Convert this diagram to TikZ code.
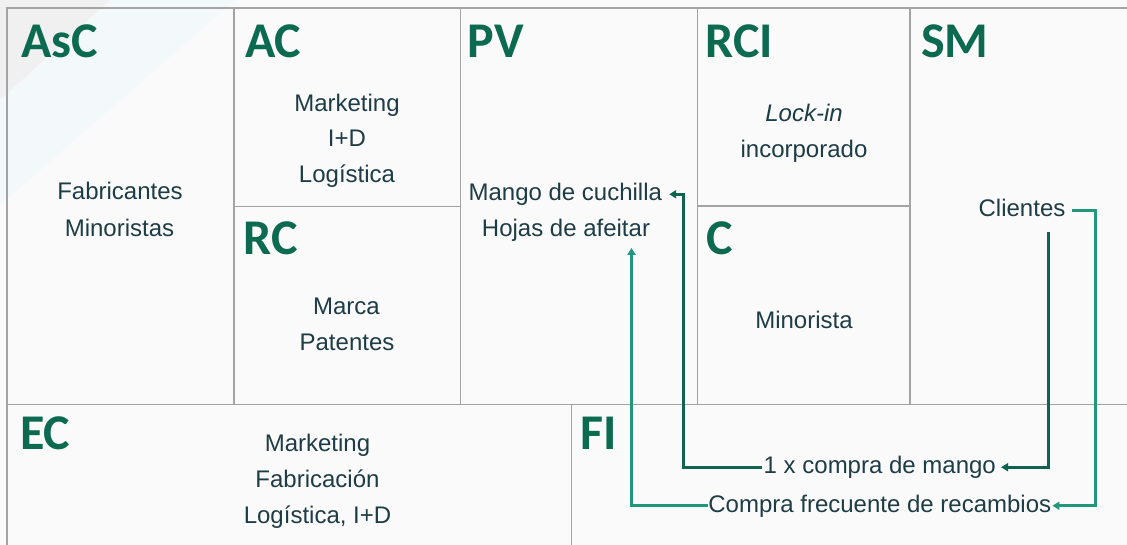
\documentclass[tikz,border=0pt]{standalone}
\usepackage{fontspec}
\setmainfont{Liberation Sans}
\newfontfamily\hdrfont{Carlito}
\usetikzlibrary{arrows.meta}
\definecolor{bgc}{HTML}{FAFAFA}
\definecolor{bandc}{HTML}{F3F8FA}
\definecolor{cornc}{HTML}{F0F0F0}
\definecolor{gridc}{HTML}{A3A3A3}
\definecolor{hdrc}{HTML}{0C6A50}
\definecolor{txtc}{HTML}{1D3C45}
\definecolor{darkc}{HTML}{0E6450}
\definecolor{tealc}{HTML}{23977C}
\begin{document}
\begin{tikzpicture}[x=1pt,y=-1pt,
  grid/.style={draw=gridc, line width=1.4pt},
  hdr/.style={anchor=base west, inner sep=0pt, text=hdrc, font=\hdrfont\bfseries\fontsize{50}{50}\selectfont},
  txt/.style={anchor=base, inner sep=0pt, text=txtc, font=\fontsize{24}{24}\selectfont, text height=17.5pt, text depth=5pt},
  darkarr/.style={draw=darkc, line width=2.6pt, -{Triangle[length=7pt,width=8pt]}},
  tealarr/.style={draw=tealc, line width=2.6pt, -{Triangle[length=7pt,width=8pt]}}]
\useasboundingbox (0,0) rectangle (1127,545);
% background
\fill[bgc] (0,0) rectangle (1127,545);
\fill[bandc] (110,0) -- (235,0) -- (0,205) -- (0,100) -- cycle;
\fill[cornc] (0,0) -- (110,0) -- (0,100) -- cycle;
% grid
\draw[grid] (1127,8) -- (7,8) -- (7,545);
\draw[grid] (234,8) -- (234,404.5);
\draw[grid] (460.5,8) -- (460.5,404.5);
\draw[grid] (697.5,8) -- (697.5,404.5);
\draw[grid] (910,8) -- (910,404.5);
\draw[grid] (234,206.5) -- (460.5,206.5);
\draw[grid] (697.5,206) -- (910,206);
\draw[grid] (7,404.5) -- (1127,404.5);
\draw[grid] (571.5,404.5) -- (571.5,545);
% headers
\node[hdr] (hAsC) at (21,57.3) {AsC};
\node[hdr] (hAC) at (245,57.3) {AC};
\node[hdr] (hPV) at (467.5,57.3) {PV};
\node[hdr] (hRCI) at (705,57.3) {RCI};
\node[hdr] (hSM) at (921,57.3) {SM};
\node[hdr] (hRC) at (243,254.5) {RC};
\node[hdr] (hC) at (706,255) {C};
\node[hdr] (hEC) at (20,449.5) {EC};
\node[hdr] (hFI) at (580,449) {FI};
% texts
\node[txt] (fab) at (120,200) {Fabricantes};
\node[txt] (mins) at (119.5,236.5) {Minoristas};
\node[txt] (acm) at (347,111.7) {Marketing};
\node[txt] (aci) at (347,147) {I+D};
\node[txt] (acl) at (347,182.7) {Logística};
\node[txt] (rcm) at (346.5,315) {Marca};
\node[txt] (rcp) at (347,350.7) {Patentes};
\node[txt] (mc) at (565.3,200.5) {Mango de cuchilla};
\node[txt] (hj) at (566,236.7) {Hojas de afeitar};
\node[txt] (lk) at (804,122) {\itshape Lock-in};
\node[txt] (inc) at (804,157.5) {incorporado};
\node[txt] (mina) at (804,328.5) {Minorista};
\node[txt] (cl) at (1022,216.5) {Clientes};
\node[txt] (ecm) at (317.5,451.7) {Marketing};
\node[txt] (ecf) at (317.5,487.3) {Fabricación};
\node[txt] (ecl) at (317.5,523.3) {Logística, I+D};
\node[txt] (m1) at (879.8,473.5) {1 x compra de mango};
\node[txt] (rec) at (879.8,512) {Compra frecuente de recambios};
% connectors
\coordinate (dtop) at (1048.5,232);
\coordinate (dx) at (683.5,300);
\coordinate (tx) at (1095.5,300);
\coordinate (tx2) at (631.5,300);
\draw[darkarr, shorten >=5pt] (dtop) |- (m1.east);
\draw[darkarr, shorten <=1.5pt, shorten >=7pt] (m1.west) -- (m1.west -| dx) |- (mc.east);
\draw[tealarr, shorten <=6.5pt, shorten >=1pt] (cl.east) -- (cl.east -| tx) |- (rec.east);
\draw[tealarr, shorten >=6pt] (rec.west) -- (rec.west -| tx2) -- (tx2 |- hj.south);
\end{tikzpicture}
\end{document}
